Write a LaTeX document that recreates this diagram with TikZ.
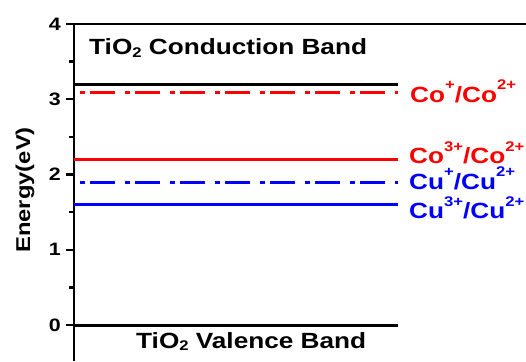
\documentclass[tikz,border=0pt]{standalone}
\usepackage{fontspec}
\setmainfont{Liberation Sans}[FakeStretch=1.19]
\newcommand{\supx}[1]{\raisebox{0.55em}{\fontsize{14}{14}\selectfont #1}}
\newcommand{\subx}[1]{\raisebox{-2.5pt}{\fontsize{14}{14}\selectfont #1}}

\begin{document}
\begin{tikzpicture}[
    x=1pt, y=75.25pt,
    axisline/.style={line width=2.5pt},
    level/.style={line width=3pt},
    dashdot/.style={dash pattern=on 25pt off 10pt on 5pt off 5pt, dash phase=29pt},
    lbl/.style={anchor=base west, inner sep=0pt, font=\fontsize{22}{22}\selectfont\bfseries},
    band/.style={anchor=base west, inner sep=0pt, font=\fontsize{22}{22}\selectfont\bfseries},
    ticklbl/.style={anchor=east, inner sep=0pt, font=\fontsize{18}{18}\selectfont\bfseries},
]
\useasboundingbox (0,-0.4784) rectangle (526,4.3189);

% axis and frame
\draw[axisline] (74,-0.4784) -- (74,4);
\draw[axisline] (74,4) -- (526,4);
\foreach \e in {0,...,4} {
  \draw[axisline] (66,\e) -- (74,\e);
  \node[ticklbl] (t\e) at (61,\e) {\e};
}
\foreach \e in {0.5,1.5,2.5,3.5}
  \draw[axisline] (69,\e) -- (74,\e);
\node[rotate=90, inner sep=0pt, font=\fontsize{20}{20}\selectfont\bfseries]
  (ylab) at (25,1.794) {Energy(eV)};

% bands
\draw[level] (74,3.2) -- (398,3.2);
\draw[level] (74,0) -- (398,0);
\node[band] (cb) at (89,3.588) {TiO\subx{2} Conduction Band};
\node[band] (vb) at (136,-0.306) {TiO\subx{2} Valence Band};

% redox levels
\draw[level, red, dashdot] (74,3.085) -- (398,3.085);
\draw[level, red] (74,2.2) -- (398,2.2);
\draw[level, blue, dashdot] (74,1.9) -- (398,1.9);
\draw[level, blue] (74,1.6) -- (398,1.6);
\node[lbl, red] (coI) at (410,2.963) {Co\supx{+}/Co\supx{2+}};
\node[lbl, red] (coIII) at (409,2.14) {Co\supx{3+}/Co\supx{2+}};
\node[lbl, blue] (cuI) at (409,1.807) {Cu\supx{+}/Cu\supx{2+}};
\node[lbl, blue] (cuIII) at (409,1.409) {Cu\supx{3+}/Cu\supx{2+}};
\end{tikzpicture}
\end{document}
